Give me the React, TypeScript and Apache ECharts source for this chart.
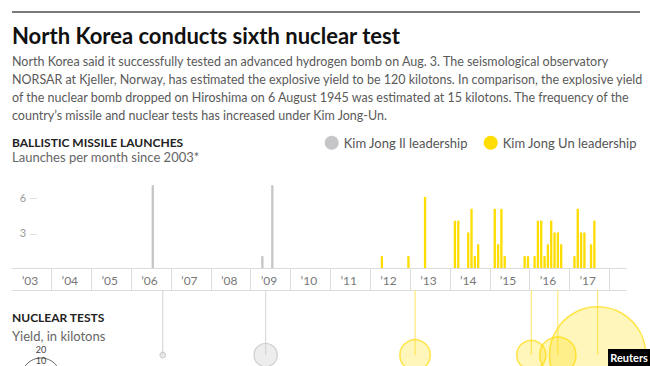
import { useEffect, useRef } from "react";
import * as echarts from "echarts";

const years = ["2003", "2004", "2005", "2006", "2007", "2008", "2009", "2010", "2011", "2012", "2013", "2014", "2015", "2016", "2017"];
const monthCodes = ["01", "02", "03", "04", "05", "06", "07", "08", "09", "10", "11", "12"];

// Ballistic missile launches per month
const ilLaunchMonths = ["2006-07", "2009-04", "2009-07"];
const ilLaunchCounts = [7, 1, 7];
const unLaunchMonths = [
  "2012-04", "2012-12", "2013-05",
  "2014-02", "2014-03", "2014-06", "2014-07", "2014-08", "2014-09",
  "2015-02", "2015-03", "2015-04", "2015-05", "2015-11", "2015-12",
  "2016-02", "2016-03", "2016-04", "2016-05", "2016-06", "2016-07", "2016-08", "2016-09", "2016-10",
  "2017-02", "2017-03", "2017-04", "2017-05", "2017-07", "2017-08",
];
const unLaunchCounts = [
  1, 1, 6,
  4, 4, 3, 5, 1, 2,
  5, 2, 5, 1, 1, 1,
  1, 4, 4, 1, 2, 4, 3, 3, 2,
  1, 5, 3, 3, 2, 4,
];

// Nuclear tests (yield in kilotons, estimated)
const ilTestMonths = ["2006-10", "2009-05"];
const ilTestYields = [0.4, 7];
const unTestMonths = ["2013-02", "2016-01", "2016-09", "2017-09"];
const unTestYields = [12, 11, 17, 120];

const yTickLabels = [3, 6];

const bodyLines = [
  "North Korea said it successfully tested an advanced hydrogen bomb on Aug. 3. The seismological observatory",
  "NORSAR at Kjeller, Norway, has estimated the explosive yield to be 120 kilotons. In comparison, the explosive yield",
  "of the nuclear bomb dropped on Hiroshima on 6 August 1945 was estimated at 15 kilotons. The frequency of the",
  "country\u2019s missile and nuclear tests has increased under Kim Jong-Un.",
];

const FONT = "Lato, 'Open Sans', sans-serif";
const GRAY = "#c6c6c8";
const YELLOW = "#ffdd00";

export default function App() {
  const ref = useRef<HTMLDivElement>(null);

  useEffect(() => {
    if (!ref.current) return;
    const chart = echarts.init(ref.current, null, { renderer: "svg" });

    const categories = years.flatMap((y) => monthCodes.map((m) => `${y}-${m}`));
    const pick = (months: string[], vals: number[]) =>
      categories.map((c) => {
        const i = months.indexOf(c);
        return i >= 0 ? vals[i] : null;
      });
    const stems = (months: string[]) =>
      categories.map((c) => (months.includes(c) ? 1 : null));

    const sizeOf = (v: number[]) => Math.sqrt(v[2]) * 8.8;

    const bodyGraphics = bodyLines.map((t, i) => ({
      type: "text",
      left: 12,
      top: 55 + i * 18,
      style: { text: t, font: `12.5px ${FONT}`, fill: "#5a5a5a" },
    }));

    const legendBase = {
      top: 130.7,
      icon: "circle",
      itemWidth: 14,
      itemHeight: 14,
      selectedMode: false,
      textStyle: { fontSize: 13, color: "#555", fontFamily: FONT },
    };

    chart.setOption({
      animation: false,
      textStyle: { fontFamily: FONT },
      grid: [
        { left: 11.7, width: 597.6, top: 161.5, height: 106.5 },
        { left: 11.7, width: 597.6, top: 290, height: 65 },
      ],
      legend: [
        { ...legendBase, data: ["Kim Jong Il leadership"], left: 319.7 },
        { ...legendBase, data: ["Kim Jong Un leadership"], left: 478.7 },
      ],
      xAxis: [
        {
          type: "category",
          gridIndex: 0,
          data: categories,
          boundaryGap: true,
          axisLine: { show: false },
          axisTick: {
            show: true,
            interval: (index: number) => index % 12 === 0 && index > 0,
            length: 22,
            lineStyle: { color: "#dcdcdc", width: 1 },
          },
          axisLabel: {
            interval: (index: number) => index % 12 === 5,
            formatter: (v: string) => "\u2019" + v.slice(2, 4),
            margin: 6,
            fontSize: 12,
            color: "#777",
            fontFamily: FONT,
          },
          splitLine: { show: false },
        },
        {
          type: "category",
          gridIndex: 1,
          data: categories,
          boundaryGap: true,
          show: false,
        },
      ],
      yAxis: [
        {
          type: "value",
          gridIndex: 0,
          min: 0,
          max: 9,
          interval: 3,
          axisLine: { show: false },
          axisTick: { show: false },
          splitLine: { show: false },
          axisLabel: {
            inside: true,
            margin: 8,
            formatter: (v: number) => (yTickLabels.includes(v) ? `{n|${v}} {d|\u2014}` : ""),
            rich: {
              n: { color: "#999", fontSize: 11, fontFamily: FONT },
              d: { color: "#d0d0d0", fontSize: 10, fontFamily: FONT },
            },
          },
        },
        { type: "value", gridIndex: 1, min: 0, max: 1, show: false },
      ],
      series: [
        {
          name: "Kim Jong Il leadership",
          type: "bar",
          xAxisIndex: 0,
          yAxisIndex: 0,
          data: pick(ilLaunchMonths, ilLaunchCounts),
          barWidth: "70%",
          barGap: "-100%",
          itemStyle: { color: GRAY },
        },
        {
          name: "Kim Jong Un leadership",
          type: "bar",
          xAxisIndex: 0,
          yAxisIndex: 0,
          data: pick(unLaunchMonths, unLaunchCounts),
          barWidth: "70%",
          barGap: "-100%",
          itemStyle: { color: YELLOW },
        },
        {
          name: "il-stems",
          type: "bar",
          xAxisIndex: 1,
          yAxisIndex: 1,
          data: stems(ilTestMonths),
          barWidth: 1,
          barGap: "-100%",
          itemStyle: { color: "#d2d2d2" },
          z: 1,
        },
        {
          name: "un-stems",
          type: "bar",
          xAxisIndex: 1,
          yAxisIndex: 1,
          data: stems(unTestMonths),
          barWidth: 1,
          barGap: "-100%",
          itemStyle: { color: "#ffe55c" },
          z: 1,
        },
        {
          name: "il-tests",
          type: "scatter",
          xAxisIndex: 1,
          yAxisIndex: 1,
          clip: false,
          data: ilTestMonths.map((m, i) => [m, 0, ilTestYields[i]]),
          symbolSize: sizeOf,
          itemStyle: { color: "rgba(200,200,200,0.4)", borderColor: "#c4c4c4", borderWidth: 1.2 },
          z: 3,
        },
        {
          name: "un-tests",
          type: "scatter",
          xAxisIndex: 1,
          yAxisIndex: 1,
          clip: false,
          data: unTestMonths.map((m, i) => [m, 0, unTestYields[i]]),
          symbolSize: sizeOf,
          itemStyle: { color: "rgba(255,221,0,0.33)", borderColor: "rgba(255,218,0,0.85)", borderWidth: 1.5 },
          z: 3,
        },
      ],
      graphic: [
        {
          type: "line",
          shape: { x1: 12, y1: 12, x2: 640, y2: 12 },
          style: { stroke: "#7a7a7a", lineWidth: 2 },
        },
        {
          type: "text",
          left: 12,
          top: 24,
          style: { text: "North Korea conducts sixth nuclear test", font: `bold 22px ${FONT}`, fill: "#111" },
        },
        ...bodyGraphics,
        {
          type: "text",
          left: 12,
          top: 136,
          style: { text: "BALLISTIC MISSILE LAUNCHES", font: `bold 12px ${FONT}`, fill: "#222" },
        },
        {
          type: "text",
          left: 12,
          top: 150,
          style: { text: "Launches per month since 2003*", font: `13px ${FONT}`, fill: "#666" },
        },
        {
          type: "line",
          shape: { x1: 11.7, y1: 268.5, x2: 626.7, y2: 268.5 },
          style: { stroke: "#dcdcdc", lineWidth: 1 },
        },
        {
          type: "line",
          shape: { x1: 11.7, y1: 290.5, x2: 626.7, y2: 290.5 },
          style: { stroke: "#dcdcdc", lineWidth: 1 },
        },
        {
          type: "text",
          left: 12,
          top: 311,
          style: { text: "NUCLEAR TESTS", font: `bold 12px ${FONT}`, fill: "#222" },
        },
        {
          type: "text",
          left: 12,
          top: 329,
          style: { text: "Yield, in kilotons", font: `13px ${FONT}`, fill: "#666" },
        },
        {
          type: "circle",
          shape: { cx: 41, cy: 377.7, r: 19.7 },
          style: { fill: "none", stroke: "#444", lineWidth: 0.8 },
        },
        {
          type: "circle",
          shape: { cx: 41, cy: 383.5, r: 13.9 },
          style: { fill: "none", stroke: "#444", lineWidth: 0.8 },
        },
        {
          type: "text",
          x: 41,
          y: 349.5,
          style: { text: "20", font: `9px ${FONT}`, fill: "#444", align: "center", verticalAlign: "middle" },
        },
        {
          type: "text",
          x: 41,
          y: 360.5,
          style: { text: "10", font: `9px ${FONT}`, fill: "#444", align: "center", verticalAlign: "middle" },
        },
        {
          type: "rect",
          shape: { x: 608, y: 349, width: 42, height: 17 },
          style: { fill: "#000" },
          z: 10,
        },
        {
          type: "text",
          x: 629,
          y: 357.5,
          z: 11,
          style: { text: "Reuters", font: `bold 11px ${FONT}`, fill: "#fff", align: "center", verticalAlign: "middle" },
        },
      ],
    });

    return () => chart.dispose();
  }, []);

  return (
    <div
      ref={ref}
      style={{ position: "fixed", left: 0, top: 0, width: 650, height: 366, background: "#fff" }}
    />
  );
}
